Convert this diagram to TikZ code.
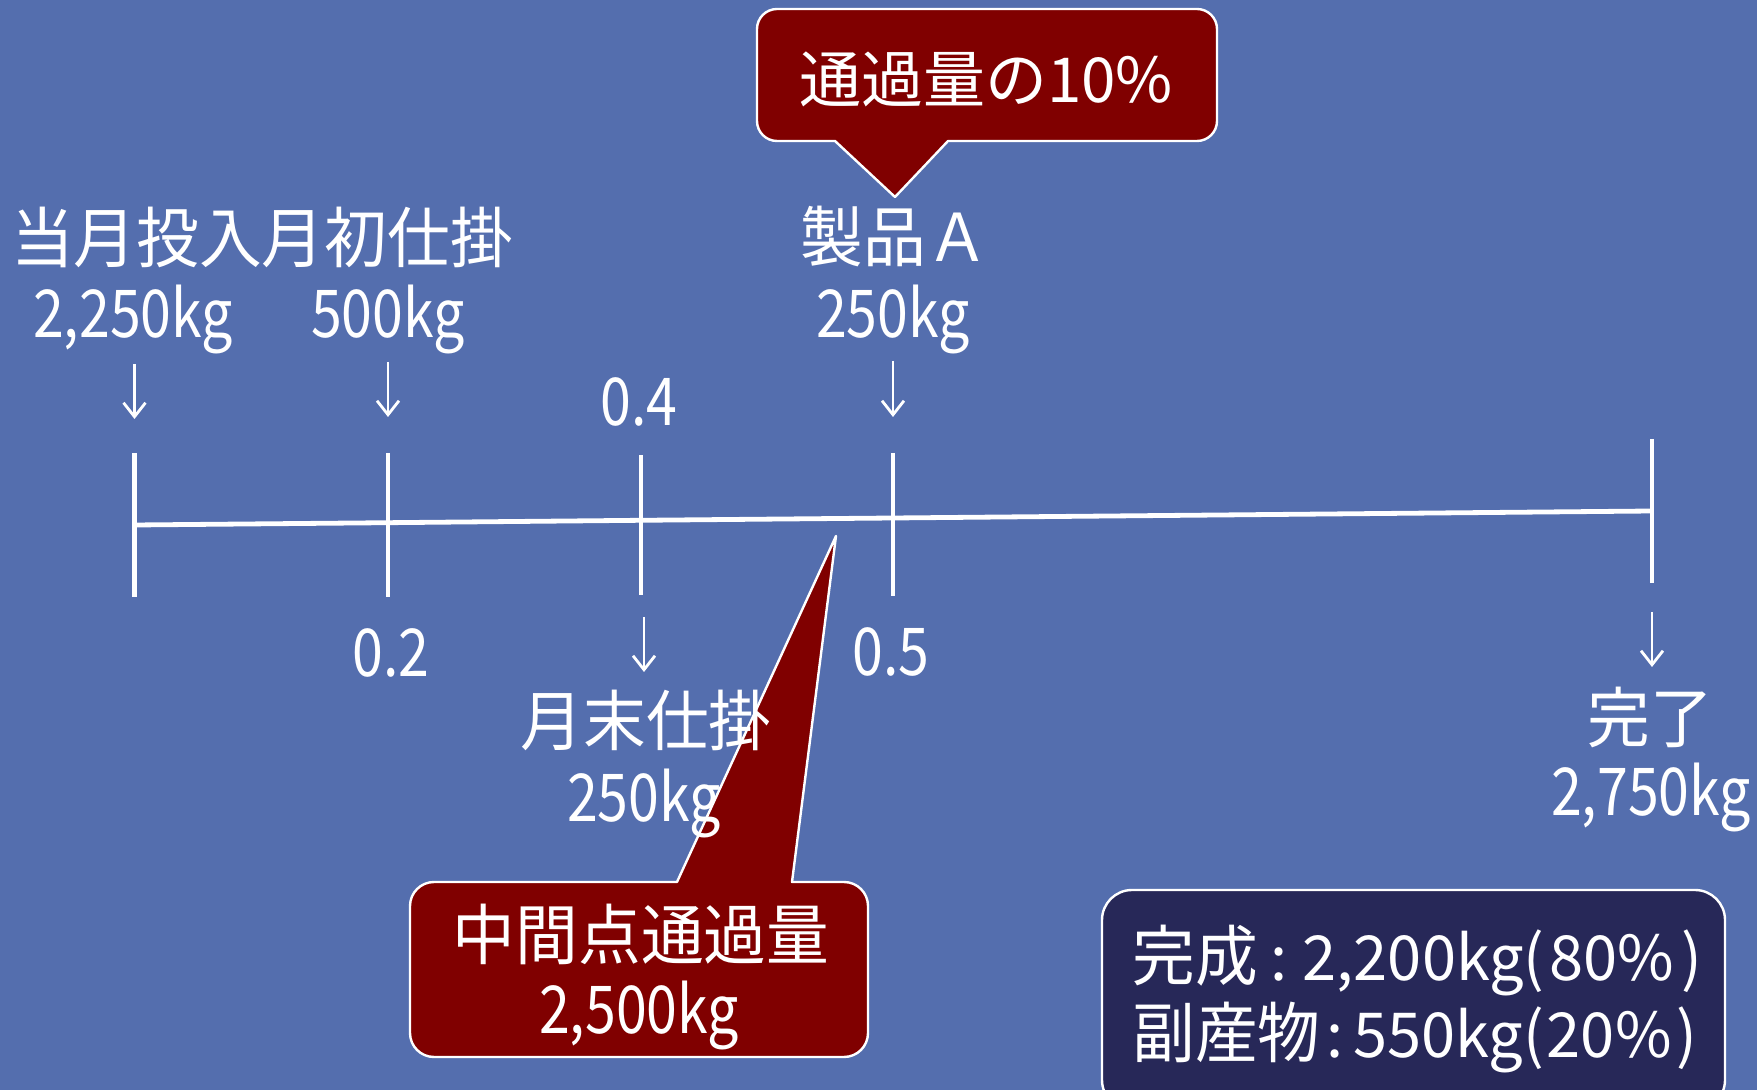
\documentclass[tikz,border=0pt]{standalone}
\usepackage{fontspec}
\usetikzlibrary{arrows.meta}
\newfontfamily\cjf[FakeStretch=0.95]{Noto Sans CJK JP}
\newfontfamily\ltf[FakeStretch=0.84]{Noto Sans CJK JP}
\newfontfamily\ltb[FakeStretch=0.99]{Noto Sans CJK JP}
\newfontfamily\jpp{Noto Sans CJK JP}
\definecolor{bgblue}{RGB}{84,110,174}
\definecolor{calred}{RGB}{128,0,0}
\definecolor{navybox}{RGB}{39,40,88}
\tikzset{
  lblC/.style={text=white, inner sep=0pt, anchor=base, font=\cjf\fontsize{33pt}{40pt}\selectfont},
  lblL/.style={text=white, inner sep=0pt, anchor=base, font=\ltf\fontsize{33pt}{40pt}\selectfont},
  lblP/.style={text=white, inner sep=0pt, anchor=base, font=\jpp\fontsize{31pt}{37pt}\selectfont},
  lblB/.style={text=white, inner sep=0pt, anchor=base west, font=\cjf\fontsize{33pt}{40pt}\selectfont},
  axisline/.style={white, line width=2.4pt},
  darrow/.style={white, line width=1.4pt, -{Straight Barb[length=7pt,width=11pt]}},
  callout/.style={fill=calred, draw=white, line width=1.2pt, line join=round},
  sumbox/.style={fill=navybox, draw=white, line width=1.2pt, rounded corners=15pt,
                 minimum width=311.5pt, minimum height=110pt, inner sep=0pt},
}
\begin{document}
\begin{tikzpicture}[x=0.5pt,y=-0.5pt]
\useasboundingbox (0,0) rectangle (1757,1090);
\clip (0,0) rectangle (1757,1090);
\fill[bgblue] (0,0) rectangle (1757,1090);

% callouts
\draw[callout] (895,197) -- (835,141) -- (777,141) arc[start angle=90,end angle=180,radius=20]
  -- (757,29) arc[start angle=180,end angle=270,radius=20]
  -- (1197,9) arc[start angle=270,end angle=360,radius=20]
  -- (1217,121) arc[start angle=0,end angle=90,radius=20]
  -- (948,141) -- cycle;
\draw[callout] (836,536) -- (792,882) -- (844,882) arc[start angle=270,end angle=360,radius=24]
  -- (868,1033) arc[start angle=0,end angle=90,radius=24]
  -- (434,1057) arc[start angle=90,end angle=180,radius=24]
  -- (410,906) arc[start angle=180,end angle=270,radius=24]
  -- (677,882) -- cycle;

% summary box
\node[sumbox] (sum) at (1413.5,1000) {};

% axis
\coordinate (m1) at (134.5,525);
\coordinate (m2) at (388,522.7);
\coordinate (m3) at (641,520.3);
\coordinate (m4) at (893,518);
\coordinate (m5) at (1652,511);
\draw[axisline] (m1) -- (m2) -- (m3) -- (m4) -- (m5);
\coordinate (t1a) at (134.5,453); \coordinate (t1b) at (134.5,597);
\coordinate (t2a) at (388,453); \coordinate (t2b) at (388,597);
\coordinate (t3a) at (641,455); \coordinate (t3b) at (641,595);
\coordinate (t4a) at (893,453); \coordinate (t4b) at (893,596);
\coordinate (t5a) at (1652,439); \coordinate (t5b) at (1652,583);
\draw[axisline] (t1a) -- (t1b);
\draw[axisline] (t2a) -- (t2b);
\draw[axisline] (t3a) -- (t3b);
\draw[axisline] (t4a) -- (t4b);
\draw[axisline] (t5a) -- (t5b);

% arrows
\coordinate (a1s) at (134.5,364); \coordinate (a1e) at (134.5,419);
\coordinate (a2s) at (388,362); \coordinate (a2e) at (388,417);
\coordinate (a3s) at (644,617); \coordinate (a3e) at (644,672);
\coordinate (a4s) at (893,361); \coordinate (a4e) at (893,417);
\coordinate (a5s) at (1652,612); \coordinate (a5e) at (1652,667);
\draw[darrow] (a1s) -- (a1e);
\draw[darrow] (a2s) -- (a2e);
\draw[darrow] (a3s) -- (a3e);
\draw[darrow] (a4s) -- (a4e);
\draw[darrow] (a5s) -- (a5e);

% labels
\node[lblC] (head) at (262,263) {当月投入月初仕掛};
\node[lblL] (in1) at (133,338) {2,250kg};
\node[lblL] (in2) at (388,338) {500kg};
\node[lblC] (prodA) at (895,262) {製品Ａ};
\node[lblL] (prodAkg) at (893,338) {250kg};
\node[lblL] (p04) at (639,426) {0.4};
\node[lblL] (p02) at (391,677) {0.2};
\node[lblL] (p05) at (891,676) {0.5};
\node[lblC] (endwip) at (646,746) {月末仕掛};
\node[lblL] (endwipkg) at (644,821) {250kg};
\node[lblC] (done) at (1650,742) {完了};
\node[lblL] (donekg) at (1651,815) {2,750kg};
\node[lblC] (mid) at (641,959) {中間点通過量};
\node[lblL] (midkg) at (639,1033) {2,500kg};
\node[lblP] (pct) at (986,103) {通過量の10\%};
\node[lblB] (sum1) at (1132,980) {完成{\ltb\fontsize{31pt}{37pt}\selectfont\hspace{0.2em}:\hspace{0.25em}2,200kg(\hspace{0.08em}80\%\hspace{0.12em})}};
\node[lblB] (sum2) at (1132,1057) {副産物{\ltb\fontsize{31pt}{37pt}\selectfont\hspace{0.1em}:\hspace{0.15em}550kg(\hspace{0.05em}20\%\hspace{0.08em})}};
\end{tikzpicture}
\end{document}
